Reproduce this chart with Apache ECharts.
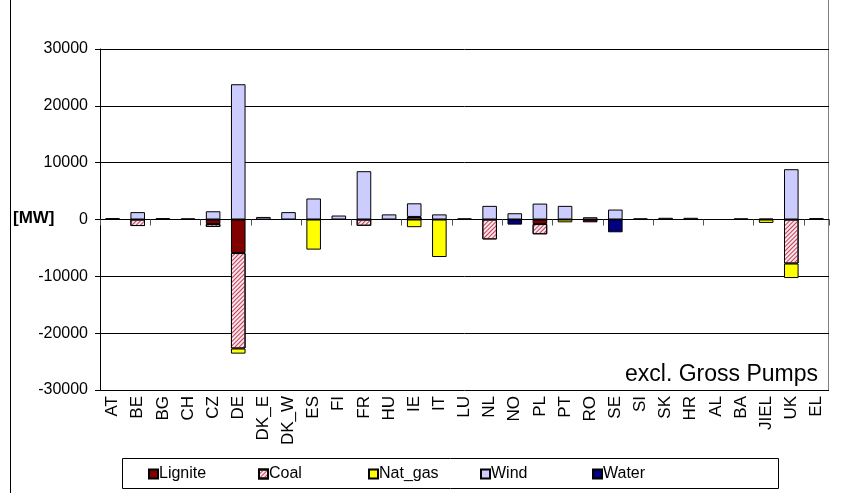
<!DOCTYPE html>
<html>
<head>
<meta charset="utf-8">
<script src="https://cdn.jsdelivr.net/npm/echarts@6/dist/echarts.min.js"></script>
<style>
  html, body { margin: 0; padding: 0; background: #fff; }
  #chart { width: 850px; height: 493px; }
</style>
</head>
<body>
<div id="chart"></div>
<script>
// Country codes along the category axis
const categories = ['AT','BE','BG','CH','CZ','DE','DK_E','DK_W','ES','FI','FR','HU','IE','IT','LU',
                    'NL','NO','PL','PT','RO','SE','SI','SK','HR','AL','BA','JIEL','UK','EL'];

// Capacity change per fuel type [MW]; null = no bar
const lignite = [null,null,null,null,-800,-5900,null,null,null,null,null,null,null,null,null,
                 null,null,-800,null,-500,null,null,null,null,null,null,null,null,null];
const coal    = [null,-1150,null,null,-500,-16800,null,null,null,null,-1100,null,450,null,null,
                 -3500,null,-1800,null,null,null,null,null,null,null,null,null,-7750,null];
const natGas  = [null,null,null,null,null,-900,null,null,-5300,null,null,null,-1350,-6600,null,
                 null,null,null,-500,null,null,null,null,null,null,null,-600,-2550,null];
const wind    = [250,1300,250,200,1450,23800,450,1300,3700,700,8500,900,2400,900,200,
                 2400,1100,2800,2400,400,1750,200,300,300,null,200,150,8850,250];
const water   = [null,null,null,null,null,null,null,null,null,null,null,null,null,null,null,
                 null,-900,null,null,null,-2250,null,null,null,null,null,null,null,null];

// Value axis ticks
const yTicks = [-30000,-20000,-10000,0,10000,20000,30000];

// Legend entries and their left edges
const legendNames = ['Lignite','Coal','Nat_gas','Wind','Water'];
const legendLeft  = [148, 258, 368, 480, 592];

const FONT = '"Liberation Sans", Arial, sans-serif';
const chart = echarts.init(document.getElementById('chart'));

function bar(name, data, color, extra) {
  return Object.assign({
    name: name,
    type: 'bar',
    stack: 'total',
    xAxisIndex: 0,
    data: data,
    barCategoryGap: '42%',
    itemStyle: { color: color, borderColor: '#000', borderWidth: 1 },
    emphasis: { disabled: true },
    animation: false
  }, extra || {});
}

const coalDecal = {
  symbol: 'rect',
  symbolSize: 1,
  color: '#c0405a',
  dashArrayX: [1, 0],
  dashArrayY: [1, 2],
  rotation: -Math.PI / 4
};

chart.setOption({
  backgroundColor: '#fff',
  animation: false,
  grid: { left: 100, right: 21, top: 49, bottom: 103, containLabel: false },
  legend: legendNames.map((n, i) => ({
    left: legendLeft[i], top: 466,
    itemWidth: 9, itemHeight: 9, itemGap: 0,
    icon: 'rect',
    selectedMode: false,
    padding: 0,
    textStyle: { fontFamily: FONT, fontSize: 16, color: '#000', padding: [0, 0, 0, -4] },
    data: [n]
  })),
  xAxis: [
    {
      type: 'category',
      data: categories,
      position: 'bottom',
      axisLine: { onZero: true, lineStyle: { color: '#000', width: 1 } },
      axisTick: { show: true, alignWithLabel: false, length: 6, lineStyle: { color: '#555' } },
      axisLabel: { show: false },
      splitLine: { show: false }
    },
    {
      type: 'category',
      data: categories,
      position: 'bottom',
      gridIndex: 0,
      axisLine: { show: false, onZero: false },
      axisTick: { show: false },
      axisLabel: {
        show: true, rotate: 90, interval: 0, margin: 6,
        fontFamily: FONT, fontSize: 17, color: '#000'
      }
    }
  ],
  yAxis: {
    type: 'value',
    min: yTicks[0],
    max: yTicks[yTicks.length - 1],
    interval: 10000,
    axisLine: { show: true, lineStyle: { color: '#000', width: 1 } },
    axisTick: { show: true, length: 5, lineStyle: { color: '#000' } },
    axisLabel: { fontFamily: FONT, fontSize: 16, color: '#000', margin: 12, formatter: v => String(v) },
    splitLine: { show: true, lineStyle: { color: '#000', width: 1 } }
  },
  series: [
    bar('Lignite', lignite, '#800000'),
    bar('Coal', coal, '#fbe4ea', { itemStyle: { color: '#fbe4ea', borderColor: '#000', borderWidth: 1, decal: coalDecal } }),
    bar('Nat_gas', natGas, '#ffff00'),
    bar('Wind', wind, '#ccccff'),
    bar('Water', water, '#000080')
  ],
  graphic: [
    // outer chart frame, left side
    { type: 'line', shape: { x1: 10.5, y1: 0, x2: 10.5, y2: 493 }, style: { stroke: '#000', lineWidth: 1 }, silent: true },
    // plot area right edge
    { type: 'line', shape: { x1: 828.5, y1: 0, x2: 828.5, y2: 390 }, style: { stroke: '#808080', lineWidth: 1 }, silent: true },
    // legend frame
    { type: 'rect', shape: { x: 122.5, y: 458.5, width: 656, height: 30 }, style: { fill: '#fff', stroke: '#000', lineWidth: 1 }, z: -1, silent: true },
    // unit label
    { type: 'text', left: 13, top: 210, style: { text: '[MW]', font: 'bold 17px ' + FONT, fill: '#000' }, silent: true },
    // note
    { type: 'text', right: 32, top: 363, style: { text: 'excl. Gross Pumps', font: '23px ' + FONT, fill: '#000' }, silent: true }
  ]
});
</script>
</body>
</html>
